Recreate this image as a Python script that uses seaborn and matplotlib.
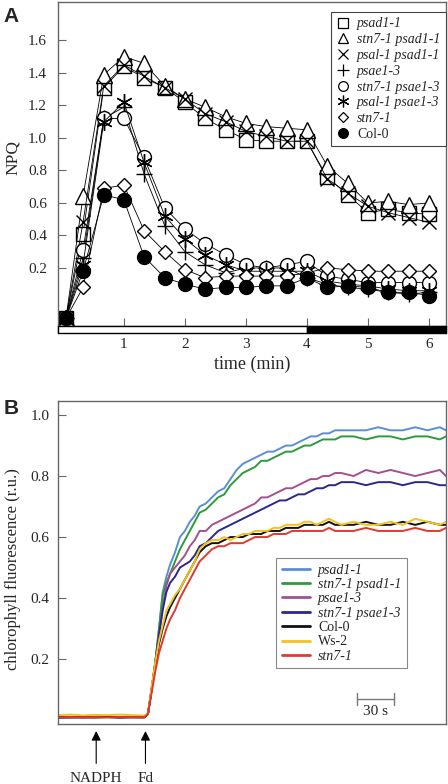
import numpy as np
import pandas as pd
import seaborn as sns
import matplotlib.pyplot as plt
from matplotlib.lines import Line2D
from matplotlib.patches import Rectangle

# ---- panel A data (NPQ, time in min) ----
time_min = [0.05, 0.33, 0.67, 1.0, 1.33, 1.67, 2.0, 2.33, 2.67, 3.0, 3.33, 3.67,
            4.0, 4.33, 4.67, 5.0, 5.33, 5.67, 6.0]
npq_psad = [-0.11, 0.41, 1.31, 1.44, 1.37, 1.31, 1.22, 1.12, 1.05, 0.99, 0.98, 0.98,
            0.98, 0.76, 0.65, 0.54, 0.56, 0.54, 0.53]
npq_stn7_psad = [-0.11, 0.64, 1.39, 1.50, 1.46, 1.32, 1.24, 1.19, 1.13, 1.09, 1.07, 1.06,
                 1.05, 0.83, 0.72, 0.60, 0.61, 0.59, 0.60]
npq_psal_psad = [-0.11, 0.48, 1.32, 1.45, 1.38, 1.31, 1.24, 1.15, 1.10, 1.04, 1.01, 0.98,
                 0.98, 0.75, 0.66, 0.58, 0.54, 0.51, 0.48]
npq_psae = [-0.11, 0.26, 1.12, 1.19, 0.78, 0.46, 0.30, 0.22, 0.17, 0.20, 0.20, 0.20,
            0.14, 0.10, 0.08, 0.07, 0.05, 0.04, 0.05]
npq_stn7_psae = [-0.11, 0.31, 1.12, 1.12, 0.88, 0.57, 0.44, 0.35, 0.28, 0.22, 0.20, 0.22,
                 0.24, 0.15, 0.13, 0.11, 0.11, 0.11, 0.11]
npq_psal_psae = [-0.11, 0.22, 1.10, 1.22, 0.85, 0.52, 0.38, 0.28, 0.22, 0.18, 0.18, 0.18,
                 0.18, 0.12, 0.10, 0.09, 0.07, 0.06, 0.06]
npq_stn7 = [-0.11, 0.08, 0.69, 0.71, 0.43, 0.30, 0.19, 0.14, 0.15, 0.15, 0.15, 0.15,
            0.17, 0.20, 0.19, 0.18, 0.18, 0.18, 0.18]
npq_col = [-0.11, 0.18, 0.65, 0.62, 0.27, 0.14, 0.10, 0.07, 0.08, 0.08, 0.09, 0.09,
           0.14, 0.08, 0.09, 0.08, 0.05, 0.05, 0.03]

labels_a = ['psad1-1', 'stn7-1 psad1-1', 'psal-1 psad1-1', 'psae1-3',
            'stn7-1 psae1-3', 'psal-1 psae1-3', 'stn7-1', 'Col-0']
series_a = [npq_psad, npq_stn7_psad, npq_psal_psad, npq_psae,
            npq_stn7_psae, npq_psal_psae, npq_stn7, npq_col]
markers_a = ['s', '^', 'x', '+', 'o', (6, 2, 0), 'D', 'o']
fills_a = ['white'] * 7 + ['black']
sizes_a = [10, 11, 10, 12, 10, 12, 7.5, 10]

# ---- panel B data (chlorophyll fluorescence, time in s) ----
time_s = [0, 10, 20, 30, 40, 50, 60, 70, 73, 76, 79, 82, 85, 88, 91, 95, 99, 103,
          107, 111, 115, 120, 125, 130, 135, 140, 145, 150, 155, 160, 165, 170, 175,
          180, 185, 190, 195, 200, 205, 210, 215, 220, 225, 230, 240, 250, 260, 270,
          280, 290, 300, 310, 315]
fl_psad = [0.010, 0.011, 0.009, 0.010, 0.011, 0.010, 0.009, 0.010, 0.02, 0.10, 0.19,
           0.30, 0.42, 0.47, 0.51, 0.55, 0.60, 0.62, 0.65, 0.67, 0.70, 0.71, 0.73,
           0.75, 0.76, 0.79, 0.82, 0.84, 0.85, 0.86, 0.87, 0.88, 0.88, 0.89, 0.90,
           0.90, 0.91, 0.92, 0.93, 0.93, 0.94, 0.94, 0.95, 0.95, 0.95, 0.95, 0.96,
           0.95, 0.95, 0.96, 0.95, 0.96, 0.95]
fl_stn7_psad = [0.008, 0.009, 0.010, 0.008, 0.009, 0.010, 0.009, 0.008, 0.02, 0.10,
                0.19, 0.30, 0.41, 0.45, 0.48, 0.52, 0.56, 0.59, 0.62, 0.65, 0.68,
                0.69, 0.71, 0.73, 0.74, 0.77, 0.79, 0.81, 0.82, 0.83, 0.85, 0.85,
                0.86, 0.87, 0.88, 0.88, 0.89, 0.90, 0.90, 0.91, 0.92, 0.92, 0.92,
                0.93, 0.93, 0.92, 0.93, 0.93, 0.92, 0.93, 0.93, 0.92, 0.93]
fl_psae = [0.009, 0.010, 0.011, 0.009, 0.010, 0.009, 0.011, 0.010, 0.02, 0.10, 0.19,
           0.28, 0.37, 0.44, 0.48, 0.50, 0.52, 0.54, 0.57, 0.59, 0.62, 0.62, 0.64,
           0.65, 0.66, 0.67, 0.68, 0.69, 0.70, 0.71, 0.73, 0.73, 0.74, 0.75, 0.76,
           0.76, 0.77, 0.78, 0.79, 0.79, 0.80, 0.80, 0.81, 0.81, 0.80, 0.82, 0.81,
           0.82, 0.81, 0.80, 0.81, 0.82, 0.80]
fl_stn7_psae = [0.008, 0.009, 0.008, 0.009, 0.010, 0.008, 0.009, 0.009, 0.02, 0.10,
                0.19, 0.28, 0.36, 0.42, 0.45, 0.47, 0.50, 0.51, 0.52, 0.54, 0.57,
                0.58, 0.60, 0.62, 0.63, 0.64, 0.65, 0.66, 0.67, 0.68, 0.69, 0.70,
                0.71, 0.72, 0.72, 0.73, 0.74, 0.74, 0.75, 0.76, 0.76, 0.77, 0.77,
                0.78, 0.78, 0.77, 0.78, 0.78, 0.77, 0.78, 0.78, 0.77, 0.77]
fl_col = [0.010, 0.009, 0.010, 0.011, 0.010, 0.009, 0.010, 0.010, 0.02, 0.10, 0.18,
          0.25, 0.30, 0.34, 0.37, 0.40, 0.43, 0.46, 0.49, 0.52, 0.55, 0.57, 0.58,
          0.58, 0.59, 0.60, 0.60, 0.60, 0.61, 0.61, 0.61, 0.62, 0.62, 0.62, 0.63,
          0.63, 0.63, 0.64, 0.64, 0.64, 0.64, 0.65, 0.64, 0.64, 0.64, 0.65, 0.64,
          0.64, 0.65, 0.64, 0.65, 0.64, 0.64]
fl_ws2 = [0.016, 0.018, 0.015, 0.017, 0.016, 0.018, 0.016, 0.015, 0.02, 0.11, 0.19,
          0.26, 0.31, 0.36, 0.38, 0.41, 0.43, 0.46, 0.49, 0.52, 0.56, 0.58, 0.59,
          0.59, 0.60, 0.59, 0.60, 0.61, 0.61, 0.62, 0.62, 0.62, 0.63, 0.63, 0.64,
          0.64, 0.64, 0.65, 0.65, 0.64, 0.65, 0.66, 0.65, 0.64, 0.65, 0.64, 0.64,
          0.65, 0.64, 0.66, 0.65, 0.64, 0.65]
fl_stn7 = [0.009, 0.010, 0.009, 0.010, 0.009, 0.010, 0.010, 0.009, 0.02, 0.09, 0.16,
           0.22, 0.26, 0.30, 0.33, 0.36, 0.40, 0.43, 0.46, 0.49, 0.52, 0.54, 0.56,
           0.57, 0.57, 0.58, 0.58, 0.58, 0.59, 0.60, 0.60, 0.60, 0.61, 0.61, 0.61,
           0.62, 0.62, 0.62, 0.62, 0.62, 0.62, 0.63, 0.62, 0.62, 0.62, 0.63, 0.62,
           0.62, 0.62, 0.63, 0.62, 0.62, 0.63]

labels_b = ['psad1-1', 'stn7-1 psad1-1', 'psae1-3', 'stn7-1 psae1-3',
            'Col-0', 'Ws-2', 'stn7-1']
series_b = [fl_psad, fl_stn7_psad, fl_psae, fl_stn7_psae, fl_col, fl_ws2, fl_stn7]
colors_b = ['#5a8fd6', '#2e9a3c', '#a4508f', '#2b2888', '#111111', '#f2c21e', '#e0392f']

sns.set_style('ticks')
plt.rcParams['font.family'] = ['Liberation Serif', 'DejaVu Serif']

fig = plt.figure(figsize=(4.48, 7.84), dpi=100)
axA = fig.add_axes([0.1295, 0.5753, 0.866, 0.4222])
axB = fig.add_axes([0.1295, 0.0765, 0.866, 0.412])

# ---------- panel A ----------
for lab, vals, mk, fc, ms in zip(labels_a, series_a, markers_a, fills_a, sizes_a):
    sns.lineplot(x=time_min, y=vals, ax=axA, color='black', lw=0.6, marker=mk,
                 mfc=fc, mec='black', mew=1.0, ms=ms, legend=False)

axA.set_xlim(-0.08, 6.28)
axA.set_ylim(-0.2, 1.837)
axA.set_xticks([1, 2, 3, 4, 5, 6])
axA.set_yticks([0.2, 0.4, 0.6, 0.8, 1.0, 1.2, 1.4, 1.6])
axA.set_yticklabels(['0.2', '0.4', '0.6', '0.8', '1.0', '1.2', '1.4', '1.6'])
axA.spines['bottom'].set_position(('data', -0.157))
axA.tick_params(axis='both', direction='in', length=6, width=0.8, color='#666666',
                labelsize=11)
axA.tick_params(axis='x', pad=9)
axA.tick_params(axis='y', pad=8)
for sp in axA.spines.values():
    sp.set_color('#666666')
    sp.set_linewidth(1.0)
# light / dark bar
axA.add_patch(Rectangle((-0.08, -0.2), 4.08, 0.043, facecolor='white',
                        edgecolor='black', lw=1.0, clip_on=False, zorder=3))
axA.add_patch(Rectangle((4.0, -0.2), 2.28, 0.043, facecolor='black',
                        edgecolor='black', lw=1.0, clip_on=False, zorder=3))
axA.set_xlabel('time (min)', fontsize=13, labelpad=3)
axA.set_ylabel('NPQ', fontsize=12.5)
axA.yaxis.set_label_coords(-0.095, 0.53)

handles_a = [Line2D([], [], ls='none', marker=mk, mfc=fc, mec='black', mew=0.9,
                    ms=ms * 0.7, color='black')
             for mk, fc, ms in zip(markers_a, fills_a, sizes_a)]
legA = axA.legend(handles_a, labels_a, loc='upper right', bbox_to_anchor=(1.0, 0.97),
                  borderaxespad=0, fontsize=10, frameon=True, fancybox=False,
                  framealpha=1, edgecolor='#444444', handlelength=1.0,
                  handletextpad=0.5, labelspacing=0.2, borderpad=0.4)
legA.get_frame().set_linewidth(0.8)
for t in legA.get_texts():
    if t.get_text() != 'Col-0':
        t.set_style('italic')

# ---------- panel B ----------
for lab, vals, col in zip(labels_b, series_b, colors_b):
    sns.lineplot(x=time_s, y=vals, ax=axB, color=col, lw=1.4, legend=False)

axB.set_xlim(0, 315)
axB.set_ylim(-0.013, 1.046)
axB.set_xticks([])
axB.set_yticks([0.2, 0.4, 0.6, 0.8, 1.0])
axB.set_yticklabels(['0.2', '0.4', '0.6', '0.8', '1.0'])
axB.tick_params(axis='y', direction='in', length=6, width=0.8, color='#666666',
                labelsize=11, pad=6)
for sp in axB.spines.values():
    sp.set_color('#666666')
    sp.set_linewidth(1.0)
axB.set_ylabel('chlorophyll fluorescence (r.u.)', fontsize=12)
axB.yaxis.set_label_coords(-0.095, 0.48)

handles_b = [Line2D([], [], color=c, lw=2) for c in colors_b]
legB = axB.legend(handles_b, labels_b, loc='upper right', bbox_to_anchor=(0.8995, 0.514),
                  borderaxespad=0, fontsize=10, frameon=True, fancybox=False,
                  framealpha=1, edgecolor='#888888', handlelength=2.0,
                  handletextpad=0.6, labelspacing=0.1, borderpad=0.4)
legB.get_frame().set_linewidth(0.8)
for t in legB.get_texts():
    if t.get_text() not in ('Col-0', 'Ws-2'):
        t.set_style('italic')

# scale bar
axB.plot([243, 273], [0.069, 0.069], color='#777777', lw=1.0)
axB.plot([243, 243], [0.05, 0.088], color='#777777', lw=1.0)
axB.plot([273, 273], [0.05, 0.088], color='#777777', lw=1.0)
axB.text(258, 0.05, '30 s', ha='center', va='top', fontsize=11)

# arrows
for xs, txt in [(31, 'NADPH'), (71, 'Fd')]:
    axB.annotate('', xy=(xs, -0.036), xytext=(xs, -0.142),
                 arrowprops=dict(arrowstyle='-|>', color='black', lw=0.8,
                                 mutation_scale=14, shrinkA=0, shrinkB=0),
                 annotation_clip=False)
    axB.text(xs, -0.19, txt, ha='center', va='center', fontsize=11, clip_on=False)

fig.text(0.008, 0.972, 'A', fontsize=15, fontweight='bold', family='Liberation Sans')
fig.text(0.008, 0.472, 'B', fontsize=15, fontweight='bold', family='Liberation Sans')

fig.savefig('out.png', dpi=100)
